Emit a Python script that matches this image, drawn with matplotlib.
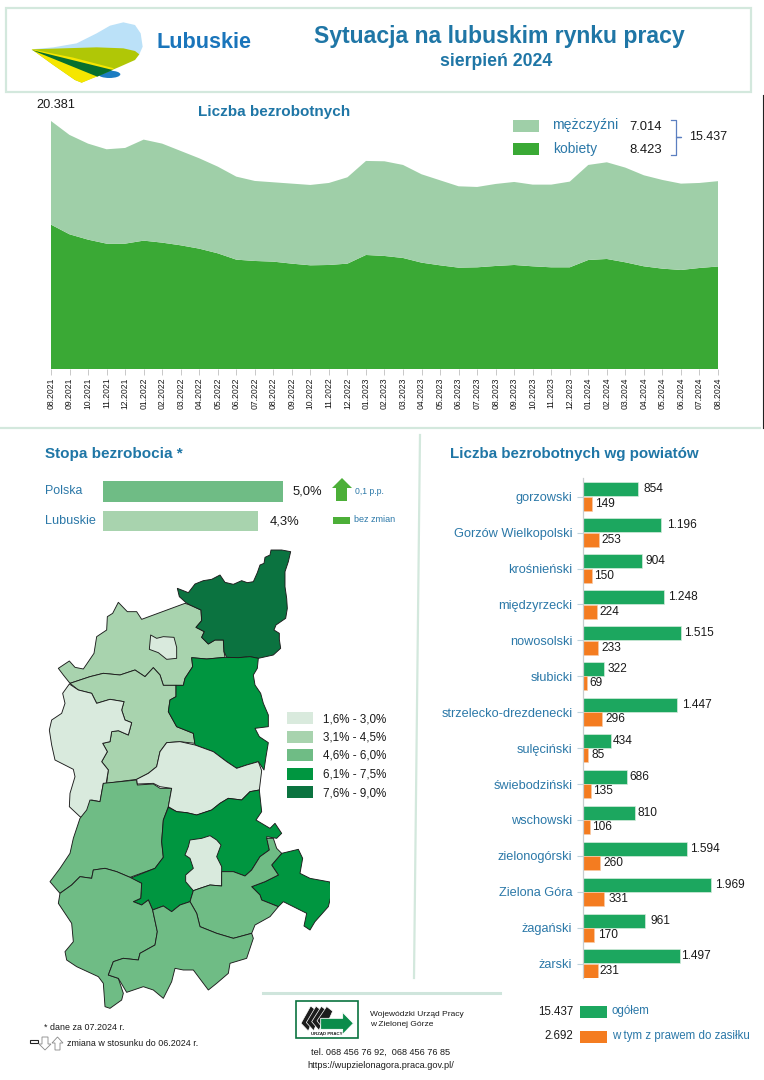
import matplotlib
matplotlib.use("Agg")
import matplotlib.pyplot as plt
from matplotlib.patches import Polygon, Rectangle, Ellipse

plt.rcParams["font.family"] = ["Liberation Sans", "DejaVu Sans"]

W, H = 764, 1080

# liczba bezrobotnych - szereg miesieczny
miesiace = ["08.2021", "09.2021", "10.2021", "11.2021", "12.2021",
            "01.2022", "02.2022", "03.2022", "04.2022", "05.2022", "06.2022", "07.2022",
            "08.2022", "09.2022", "10.2022", "11.2022", "12.2022",
            "01.2023", "02.2023", "03.2023", "04.2023", "05.2023", "06.2023", "07.2023",
            "08.2023", "09.2023", "10.2023", "11.2023", "12.2023",
            "01.2024", "02.2024", "03.2024", "04.2024", "05.2024", "06.2024", "07.2024", "08.2024"]
ogolem = [20381, 19235, 18522, 18057, 18166, 18851, 18522, 17920, 17317, 16632, 15810, 15454,
          15344, 15234, 15125, 15289, 15755, 17098, 17070, 16769, 16002, 15508, 15015, 14960,
          15207, 15371, 15152, 15152, 15399, 16769, 16988, 16550, 15919, 15536, 15234, 15289, 15437]
kobiety = [11864, 11070, 10631, 10302, 10302, 10549, 10385, 10165, 9891, 9508, 8987, 8878,
           8823, 8658, 8521, 8549, 8658, 9371, 9289, 9124, 8741, 8521, 8330, 8357,
           8467, 8549, 8439, 8357, 8357, 8960, 9042, 8768, 8439, 8247, 8138, 8302, 8423]
mezczyzni = [o - k for o, k in zip(ogolem, kobiety)]

# powiaty
powiaty = ["gorzowski", "Gorzów Wielkopolski", "krośnieński", "międzyrzecki", "nowosolski",
           "słubicki", "strzelecko-drezdenecki", "sulęciński", "świebodziński", "wschowski",
           "zielonogórski", "Zielona Góra", "żagański", "żarski"]
powiaty_ogolem = [854, 1196, 904, 1248, 1515, 322, 1447, 434, 686, 810, 1594, 1969, 961, 1497]
powiaty_zasilek = [149, 253, 150, 224, 233, 69, 296, 85, 135, 106, 260, 331, 170, 231]
# odstep etykiety od slupka, w pikselach
odstep_ogolem = [5, 6, 4, 4, 3, 4, 5, 2, 2, 2, 3, 4, 5, 1]
odstep_zasilek = [3, 2, 2, 2, 4, 2, 3, 3, 2, 2, 4, 4, 4, 2]

# stopa bezrobocia
stopa_nazwy = ["Polska", "Lubuskie"]
stopa_wartosci = [5.0, 4.3]

# legenda mapy
przedzialy = ["1,6% - 3,0%", "3,1% - 4,5%", "4,6% - 6,0%", "6,1% - 7,5%", "7,6% - 9,0%"]
kolory_mapy = ["#D9EADD", "#A8D3AE", "#6FBC85", "#009640", "#0B7340"]

# kontury powiatow (klasa koloru, punkty) w jednostkach mapy
strzelecki = [(472,85),(490,92),(505,98),(525,72),(550,62),(575,58),(600,45),(615,67),(640,73),(665,62),
              (682,68),(700,65),(712,38),(720,15),(732,10),(735,-8),(750,-15),(753,-30),(785,-30),(812,-25),
              (805,5),(795,35),(795,80),(800,115),(802,145),(797,175),(768,195),(762,210),(778,220),(778,238),
              (782,265),(760,285),(715,295),(690,290),(655,293),(620,292),(612,275),(610,240),(585,240),(565,252),
              (545,232),(553,215),(528,202),(545,182),(543,150),(510,135),(498,128),(478,110)]
gorzowski = [(115,325),(148,303),(165,322),(190,327),(205,305),(222,280),(230,230),(260,210),(262,170),(278,160),
             (295,127),(322,155),(350,155),(365,178),(495,130),(510,135),(543,150),(545,182),(528,202),(553,215),
             (545,232),(565,252),(585,240),(610,240),(612,275),(615,292),(560,297),(515,293),(518,320),(495,355),
             (490,376),(430,376),(420,345),(400,323),(375,350),(345,330),(300,345),(250,340),(210,350),(150,370),(130,345)]
gorzow = [(392,225),(410,235),(430,230),(462,232),(470,262),(470,295),(440,298),(415,278),(388,268)]
slubicki = [(148,372),(175,390),(215,400),(230,430),(270,418),(312,425),(305,450),(315,480),(335,488),(325,525),
            (295,512),(275,515),(270,545),(248,550),(262,575),(245,605),(265,630),(258,672),(250,670),(240,725),
            (215,720),(200,760),(195,775),(180,770),(148,740),(150,700),(165,650),(160,628),(105,600),(95,555),
            (88,510),(95,480),(125,460),(135,430),(128,400)]
sulecinski = [(150,370),(210,350),(250,340),(300,345),(345,330),(375,350),(400,323),(420,345),(430,376),(468,376),
              (468,410),(450,420),(445,455),(470,500),(520,520),(525,550),(480,545),(440,548),(420,575),(410,620),
              (385,640),(350,658),(260,670),(265,630),(245,605),(262,575),(248,550),(270,545),(275,515),(295,512),
              (325,525),(335,488),(315,480),(305,450),(312,425),(270,418),(230,430),(215,400),(175,390)]
miedzyrzecki = [(515,293),(560,297),(615,292),(655,293),(690,290),(715,295),(712,325),(700,345),(705,375),(722,400),
                (730,430),(745,465),(745,500),(705,505),(718,530),(745,548),(738,590),(732,630),(715,605),(680,615),
                (650,625),(620,605),(580,575),(525,555),(520,520),(470,500),(445,455),(450,420),(468,410),(468,376),
                (490,376),(495,355),(518,320)]
swiebodzinski = [(350,658),(385,640),(410,620),(420,575),(440,548),(480,545),(525,555),(580,575),(620,605),(650,625),
                 (680,615),(715,605),(725,632),(718,690),(690,695),(665,720),(625,715),(600,730),(575,750),(530,765),
                 (500,758),(470,755),(445,740),(455,685),(420,680),(400,670),(352,672)]
krosnienski = [(250,670),(350,660),(352,675),(400,672),(420,685),(455,685),(445,740),(430,780),(425,845),(430,892),
               (405,925),(330,952),(290,935),(255,925),(220,930),(215,955),(180,950),(155,975),(120,1000),(90,965),
               (120,925),(150,880),(160,835),(180,775),(200,750),(210,720),(240,725)]
zielonogorski = [(445,742),(430,780),(425,845),(430,892),(405,925),(330,955),(365,970),(362,1015),(340,1025),(365,1035),
                 (385,1020),(398,1050),(430,1038),(455,1055),(480,1035),(510,1025),(520,992),(605,978),(605,935),(640,935),
                 (675,948),(695,930),(720,890),(748,870),(740,830),(770,835),(785,820),(765,790),(750,805),(708,780),
                 (725,755),(718,690),(690,695),(665,720),(625,715),(600,730),(575,750),(530,765),(500,758),(470,755)]
zielona_gora = [(510,840),(545,835),(570,827),(590,840),(603,855),(590,890),(605,920),(605,978),(570,975),(540,985),
                (520,992),(497,965),(497,945),(520,925),(510,895),(495,885),(505,860)]
nowosolski = [(605,935),(640,935),(675,948),(695,930),(720,890),(748,870),(740,835),(760,835),(770,865),(785,880),
              (755,915),(775,945),(735,965),(695,980),(720,1005),(725,1020),(775,1040),(750,1070),(705,1095),(695,1120),
              (640,1135),(590,1120),(540,1100),(530,1060),(510,1025),(520,992),(540,985),(570,975),(605,978)]
wschowski = [(695,980),(735,965),(775,945),(755,915),(785,880),(835,868),(848,895),(840,940),(870,955),(930,966),
             (935,1000),(925,1040),(885,1085),(870,1110),(852,1098),(860,1060),(820,1040),(790,1025),(775,1040),(725,1020),(720,1005)]
zarski = [(120,1000),(155,975),(180,950),(215,955),(220,930),(255,925),(290,935),(330,952),(365,970),(362,1015),
          (340,1025),(365,1035),(385,1020),(398,1050),(412,1115),(405,1155),(360,1180),(355,1200),(310,1195),(280,1205),
          (265,1245),(295,1255),(310,1300),(305,1320),(270,1345),(255,1340),(250,1270),(235,1250),(170,1220),(140,1200),
          (135,1175),(160,1145),(155,1090),(115,1030)]
zaganski = [(398,1050),(430,1038),(455,1055),(480,1035),(510,1025),(530,1060),(540,1100),(590,1120),(640,1135),(695,1120),
            (700,1135),(680,1195),(630,1210),(625,1240),(590,1270),(565,1290),(520,1230),(490,1230),(465,1225),(455,1265),
            (430,1315),(400,1290),(370,1280),(320,1297),(295,1255),(265,1245),(280,1205),(310,1195),(355,1200),(360,1180),
            (405,1155),(412,1115)]
# kolejnosc ma znaczenie: pozniejsze przykrywaja wczesniejsze
powiaty_mapa = [(1, gorzowski), (0, gorzow), (4, strzelecki), (1, sulecinski), (0, slubicki), (3, miedzyrzecki),
                (2, krosnienski), (0, swiebodzinski), (3, zielonogorski), (0, zielona_gora), (3, wschowski),
                (2, nowosolski), (2, zarski), (2, zaganski)]

NIEBIESKI = "#2B78A8"
TYTUL = "#1F76A6"
LINIA = "#D3E8DD"


def osie_px(fig, lewo, gora, prawo, dol):
    return fig.add_axes([lewo / W, 1 - dol / H, (prawo - lewo) / W, (dol - gora) / H])


fig = plt.figure(figsize=(W / 100, H / 100), dpi=100)

# warstwa na ramki, logo i opisy, w pikselach
tlo = fig.add_axes([0, 0, 1, 1])
tlo.set_xlim(0, W)
tlo.set_ylim(H, 0)
tlo.axis("off")


def napis(x, y, s, size=8.3, color="#1a1a1a", ha="left", weight="normal"):
    tlo.text(x, y + 1, s, fontsize=size, color=color, ha=ha, va="center", fontweight=weight, zorder=10)


tlo.add_patch(Rectangle((6, 8), 745, 84, fill=False, ec=LINIA, lw=1.6))
tlo.plot([0, 760], [428, 428], color=LINIA, lw=1.6)
tlo.plot([420, 414], [435, 978], color=LINIA, lw=1.6)
tlo.plot([263, 500], [993, 993], color="#CFE5DC", lw=2.2)
tlo.plot([763, 763], [95, 428], color="#222222", lw=0.8)


def logo(punkty, kolor):
    tlo.add_patch(Polygon([(20 + x / 3, 15 + y / 3) for x, y in punkty], closed=True, fc=kolor, ec="none"))


logo([(35,103),(100,97),(170,85),(230,55),(270,32),(310,22),(345,30),(362,55),(368,95),(358,118),(200,110)], "#BBE1F8")
tlo.add_patch(Ellipse((20 + 268 / 3, 15 + 178 / 3), 66 / 3, 22 / 3, fc="#1D7DC2", ec="none"))
logo([(35,103),(130,100),(230,97),(310,100),(345,108),(358,118),(345,135),(300,155),(260,172),(215,190),(185,203),(165,195),(100,150)], "#B0C706")
logo([(35,103),(160,128),(282,160),(230,185),(185,203),(165,195),(100,150)], "#F5E600")
logo([(35,105),(278,165),(232,185)], "#07702F")
napis(157, 41, "Lubuskie", size=15.6, color="#1A75BB", weight="bold")

napis(499.5, 35, "Sytuacja na lubuskim rynku pracy", size=16.6, color=TYTUL, ha="center", weight="bold")
napis(496, 61, "sierpień 2024", size=12.7, color=TYTUL, ha="center", weight="bold")

# wykres warstwowy
ax = osie_px(fig, 51, 100, 718, 369)
x = list(range(len(miesiace)))
ax.stackplot(x, kobiety, mezczyzni, colors=["#3AA935", "#9FCFA8"], linewidth=0)
ax.set_xlim(0, len(miesiace) - 1)
ax.set_ylim(0, 269 * 82.18)
ax.patch.set_alpha(0)
for s in ["top", "right", "left", "bottom"]:
    ax.spines[s].set_visible(False)
ax.set_yticks([])
ax.set_xticks(x)
ax.set_xticklabels(miesiace, rotation=90, fontsize=6.2, color="#1a1a1a")
ax.tick_params(axis="x", length=4, width=0.7, color="#C8C8C8", pad=2)

napis(36, 104, "20.381", size=9.2)
napis(198, 111, "Liczba bezrobotnych", size=11, color=TYTUL, weight="bold")
tlo.add_patch(Rectangle((513, 120), 26, 12, fc="#9FCFA8", ec="none"))
tlo.add_patch(Rectangle((513, 143), 26, 12, fc="#3AA935", ec="none"))
napis(552, 124, "mężczyźni", size=10.2, color=NIEBIESKI)
napis(553, 148, "kobiety", size=10, color=NIEBIESKI)
napis(629, 126, "7.014", size=9.4)
napis(629, 149, "8.423", size=9.4)
tlo.plot([671, 676, 676, 681, 676, 676, 671], [120, 120, 137, 137, 137, 155, 155], color="#5B7FC0", lw=0.9)
napis(689, 136, "15.437", size=9)

# stopa bezrobocia
napis(45, 453, "Stopa bezrobocia *", size=11, color=TYTUL, weight="bold")
ax_st = osie_px(fig, 103, 476, 283, 536)
ax_st.barh([0, 1], stopa_wartosci, height=0.69, color=["#6FBC85", "#A8D3AE"])
ax_st.set_xlim(0, 5)
ax_st.set_ylim(1.504, -0.516)
ax_st.axis("off")
napis(45, 490, stopa_nazwy[0], size=8.9, color=NIEBIESKI)
napis(45, 520, stopa_nazwy[1], size=9.1, color=NIEBIESKI)
napis(293, 491, "5,0%", size=9.4)
napis(270, 521, "4,3%", size=9.4)
tlo.add_patch(Polygon([(342, 478), (352, 488), (347, 488), (347, 501), (336, 501), (336, 488), (332, 488)],
                      closed=True, fc="#4CAF38", ec="none"))
napis(355, 490, "0,1 p.p.", size=6.2, color=NIEBIESKI)
tlo.add_patch(Rectangle((333, 517), 17, 7, fc="#4CAF38", ec="none"))
napis(354, 519, "bez zmian", size=6.5, color=NIEBIESKI)

# mapa
ax_m = osie_px(fig, 20, 540, 330, 1020)
ax_m.set_xlim(0, 930)
ax_m.set_ylim(1380, -60)
ax_m.axis("off")
ax_m.patch.set_alpha(0)
for klasa, punkty in powiaty_mapa:
    ax_m.add_patch(Polygon(punkty, closed=True, fc=kolory_mapy[klasa], ec="#1c1c1c", lw=0.65, joinstyle="round"))

for i, (etykieta, kolor) in enumerate(zip(przedzialy, kolory_mapy)):
    y = 718 + i * 18.5
    tlo.add_patch(Rectangle((287, y - 6), 26, 12, fc=kolor, ec="none"))
    napis(323, y, etykieta, size=8.4)

# slupki wg powiatow
napis(450, 453, "Liczba bezrobotnych wg powiatów", size=10.9, color=TYTUL, weight="bold")
ax_b = osie_px(fig, 582.7, 478, 760, 978)
y_pow = list(range(len(powiaty)))
ax_b.barh([i - 0.2 for i in y_pow], powiaty_ogolem, height=0.39, color="#1CA75F", ec="#D5EBDD", lw=0.5)
ax_b.barh([i + 0.2 for i in y_pow], powiaty_zasilek, height=0.39, color="#F47C20", ec="#F8C9A5", lw=0.5)
ax_b.set_xlim(0, 177.3 * 1969 / 128.3)
ax_b.set_ylim(13.4, -0.52)
ax_b.patch.set_alpha(0)
for s in ["top", "right", "bottom"]:
    ax_b.spines[s].set_visible(False)
ax_b.spines["left"].set_color("#C9CDCF")
ax_b.spines["left"].set_linewidth(0.9)
ax_b.set_xticks([])
ax_b.set_yticks(y_pow)
ax_b.set_yticklabels(powiaty, fontsize=9.2, color=NIEBIESKI)
ax_b.tick_params(axis="y", length=4.5, width=0.8, color="#BFD3DC", pad=3)
for i in y_pow:
    ax_b.annotate(f"{powiaty_ogolem[i]:,}".replace(",", "."), (powiaty_ogolem[i], i - 0.2),
                  xytext=(odstep_ogolem[i] * 0.72, 0), textcoords="offset points",
                  va="center", fontsize=8.6, color="#1a1a1a")
    ax_b.annotate(str(powiaty_zasilek[i]), (powiaty_zasilek[i], i + 0.2),
                  xytext=(odstep_zasilek[i] * 0.72, 0), textcoords="offset points",
                  va="center", fontsize=8.6, color="#1a1a1a")

# legenda slupkow
napis(573, 1011, "15.437", size=8.3, ha="right")
tlo.add_patch(Rectangle((580, 1006), 27, 12, fc="#1CA75F", ec="none"))
napis(612, 1010, "ogółem", size=8.3, color=NIEBIESKI)
napis(573, 1035, "2.692", size=8.3, ha="right")
tlo.add_patch(Rectangle((580, 1031), 27, 12, fc="#F47C20", ec="none"))
napis(612, 1035, "w tym z prawem do zasiłku", size=8.3, color=NIEBIESKI)

# stopka
tlo.add_patch(Rectangle((296, 1001), 62, 37, fc="white", ec="#0B7340", lw=1.2))
for dx in (0, 5, 10, 15):
    punkty = [(33 + dx * 3.2, 85 - dx * 0.5), (62 + dx * 3.2, 33 + dx * 0.1), (80 + dx * 3.2, 47 + dx * 0.1),
              (55 + dx * 3.2, 108 - dx * 0.2)]
    tlo.add_patch(Polygon([(290 + a / 3, 995 + b / 3) for a, b in punkty], closed=True,
                          fc="#1c1c1c", ec="white", lw=0.5))
strzalka = [(92, 70), (158, 70), (158, 52), (190, 85), (158, 118), (158, 103), (92, 103)]
tlo.add_patch(Polygon([(290 + a / 3, 995 + b / 3) for a, b in strzalka], closed=True, fc="#0B8C4B", ec="white", lw=0.6))
napis(327, 1032.5, "URZĄD PRACY", size=3.2, ha="center", weight="bold")
napis(370, 1014, "Wojewódzki Urząd Pracy", size=6)
napis(370, 1024, "w Zielonej Górze", size=6)
napis(380.5, 1051, "tel. 068 456 76 92,  068 456 76 85", size=6.6, ha="center")
napis(380.5, 1065, "https://wupzielonagora.praca.gov.pl/", size=6.6, ha="center")
napis(44, 1026, "* dane za 07.2024 r.", size=6.4)
napis(67, 1042, "zmiana w stosunku do 06.2024 r.", size=6.4)
tlo.add_patch(Rectangle((30, 1039.5), 8, 3.5, fc="white", ec="#222222", lw=0.8))
tlo.add_patch(Polygon([(42, 1037), (48, 1037), (48, 1044), (51, 1044), (45, 1050), (39, 1044), (42, 1044)],
                      closed=True, fc="white", ec="#888888", lw=0.6))
tlo.add_patch(Polygon([(55, 1050), (60, 1050), (60, 1043), (63, 1043), (57.5, 1037), (52, 1043), (55, 1043)],
                      closed=True, fc="white", ec="#888888", lw=0.6))

fig.savefig("out.png", dpi=100)
plt.close(fig)
